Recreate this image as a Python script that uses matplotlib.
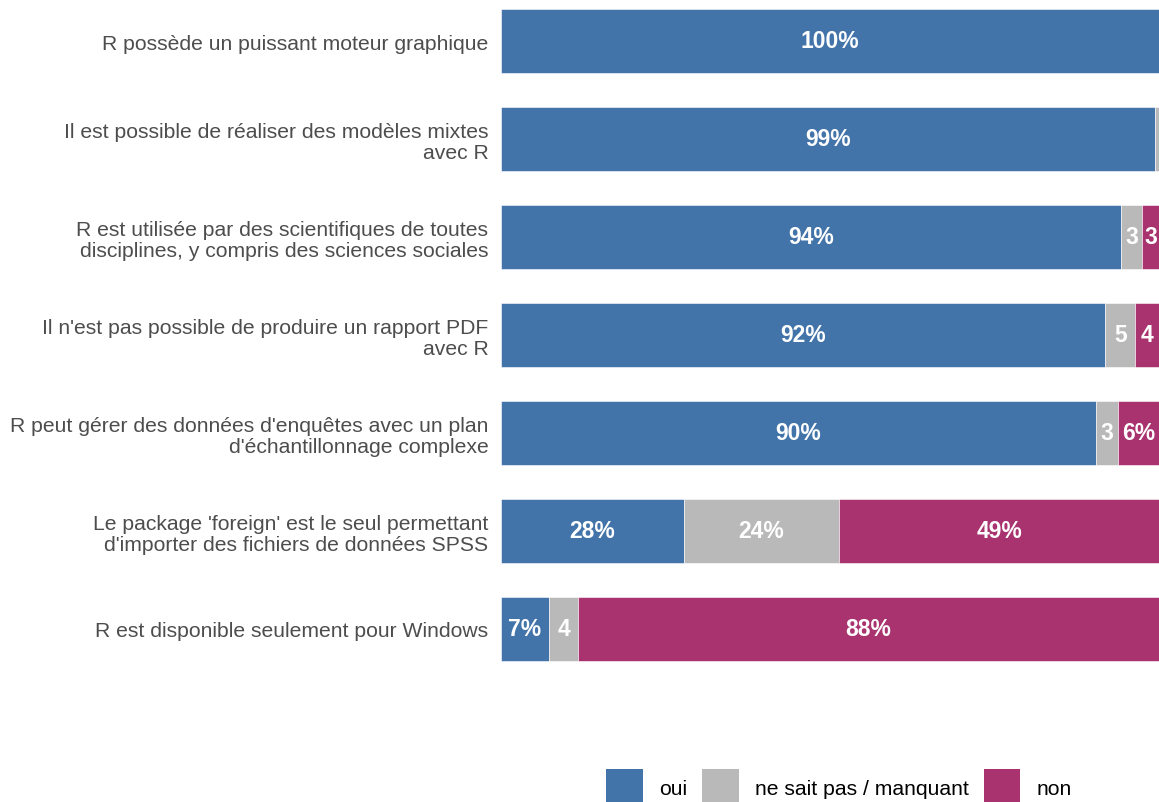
import matplotlib.pyplot as plt
from matplotlib.patches import Patch

plt.rcParams['font.family'] = ['Liberation Sans', 'DejaVu Sans']

# Questions (top to bottom) and shares in %
questions = [
    "R possède un puissant moteur graphique",
    "Il est possible de réaliser des modèles mixtes\navec R",
    "R est utilisée par des scientifiques de toutes\ndisciplines, y compris des sciences sociales",
    "Il n'est pas possible de produire un rapport PDF\navec R",
    "R peut gérer des données d'enquêtes avec un plan\nd'échantillonnage complexe",
    "Le package 'foreign' est le seul permettant\nd'importer des fichiers de données SPSS",
    "R est disponible seulement pour Windows",
]
oui = [100.0, 99.4, 94.2, 91.8, 90.4, 27.8, 7.3]
nsp = [0.0, 0.6, 3.2, 4.6, 3.4, 23.6, 4.4]
non = [0.0, 0.0, 2.6, 3.6, 6.2, 48.6, 88.3]

series = [("oui", oui, "#4374A9"),
          ("ne sait pas / manquant", nsp, "#B9B9B9"),
          ("non", non, "#A8336E")]

W, H = 1159, 803
fig = plt.figure(figsize=(W / 100, H / 100), dpi=100)
top_px, bot_px = 0, 690
ax = fig.add_axes([501 / W, 1 - bot_px / H, (1159 - 501) / W, (bot_px - top_px) / H])

ypos = list(range(len(questions)))
left = [0.0] * len(questions)
for name, vals, col in series:
    ax.barh(ypos, vals, left=left, height=0.655, color=col,
            edgecolor="white", linewidth=0.4)
    for i, v in enumerate(vals):
        if v >= 1:
            lab = f"{round(v)}%" if v >= 5.5 else f"{round(v)}"
            ax.text(left[i] + v / 2, i, lab, ha="center", va="center",
                    color="white", fontsize=16.5, fontweight="bold")
    left = [l + v for l, v in zip(left, vals)]

ax.set_xlim(0, 100)
ax.set_ylim((bot_px - 42) / 98, (top_px - 42) / 98)
ax.set_yticks(ypos)
ax.set_yticklabels(questions, fontsize=15.2, color="#4d4d4d", linespacing=1.15)
ax.tick_params(axis="y", length=0, pad=9)
ax.set_xticks([])
for s in ax.spines.values():
    s.set_visible(False)

handles = [Patch(facecolor=c, edgecolor="none", label=n) for n, _, c in series]
fig.legend(handles=handles, loc="center", bbox_to_anchor=(839 / W, 15 / H),
           ncol=3, frameon=False, fontsize=15.2, handlelength=1.75,
           handleheight=2.2, handletextpad=0.75, columnspacing=0.7)

fig.savefig("out.png", dpi=100)
